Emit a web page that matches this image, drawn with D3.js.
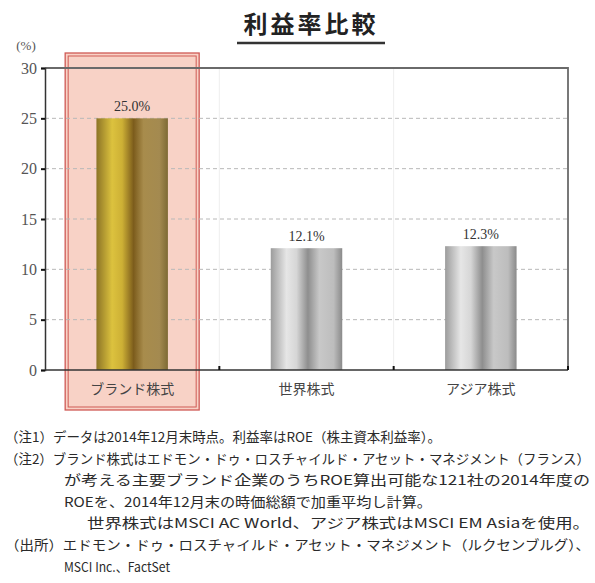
<!DOCTYPE html>
<html>
<head>
<meta charset="utf-8">
<script src="https://cdn.jsdelivr.net/npm/d3@7"></script>
<style>
  body { margin: 0; background: #fff; }
  text { font-family: "Noto Sans CJK JP", sans-serif; fill: #333; }
  .num { font-family: "Liberation Serif", "DejaVu Serif", serif; }
</style>
</head>
<body>
<div id="chart"></div>
<script>
// data
const categories = ["ブランド株式", "世界株式", "アジア株式"];
const values = [25.0, 12.1, 12.3];
const valueLabels = ["25.0%", "12.1%", "12.3%"];
const yTicks = [0, 5, 10, 15, 20, 25, 30];
const notes = [
  "（注1）データは2014年12月末時点。利益率はROE（株主資本利益率）。",
  "（注2）ブランド株式はエドモン・ドゥ・ロスチャイルド・アセット・マネジメント（フランス）",
  "が考える主要ブランド企業のうちROE算出可能な121社の2014年度の",
  "ROEを、2014年12月末の時価総額で加重平均し計算。",
  "世界株式はMSCI AC World、アジア株式はMSCI EM Asiaを使用。",
  "（出所）エドモン・ドゥ・ロスチャイルド・アセット・マネジメント（ルクセンブルグ）、",
  "MSCI Inc.、FactSet"
];
// note layout: x start, width
const noteX = [5, 5, 64, 64, 87, 5, 64];
const noteW = [436, 585, 526, 368, 503, 585, 106];

const width = 595, height = 583;
const plotLeft = 45, plotRight = 568, plotTop = 68, plotBottom = 370;

var svg = d3.select("#chart").append("svg")
  .attr("width", width)
  .attr("height", height);

var defs = svg.append("defs");

// gold gradient
var gold = defs.append("linearGradient").attr("id", "gold");
[[0, "#8c7426"], [0.22, "#dcc23e"], [0.36, "#cdb035"], [0.52, "#7c5c1c"], [0.66, "#a88c4c"], [0.88, "#a48a50"], [1, "#7e6a34"]]
  .forEach(s => gold.append("stop").attr("offset", s[0]).attr("stop-color", s[1]));

// silver gradient
var silver = defs.append("linearGradient").attr("id", "silver");
[[0, "#9c9c9c"], [0.22, "#e6e6e6"], [0.36, "#d6d6d6"], [0.52, "#8e8e8e"], [0.68, "#c8c8c8"], [0.88, "#bdbdbd"], [1, "#8a8a8a"]]
  .forEach(s => silver.append("stop").attr("offset", s[0]).attr("stop-color", s[1]));

var x = d3.scaleBand()
  .domain(categories)
  .range([plotLeft, plotRight])
  .paddingInner(0.59)
  .paddingOuter(0.295);

var y = d3.scaleLinear()
  .domain([0, 30])
  .range([plotBottom, plotTop]);

// highlight box behind first category
var cx0 = x(categories[0]) + x.bandwidth() / 2;
svg.append("rect")
  .attr("x", cx0 - 67).attr("y", 53)
  .attr("width", 134).attr("height", 357)
  .attr("fill", "#f8d2c6")
  .attr("stroke", "#cf5a55")
  .attr("stroke-width", 1.3);
svg.append("rect")
  .attr("x", cx0 - 64).attr("y", 56)
  .attr("width", 128).attr("height", 351)
  .attr("fill", "none")
  .attr("stroke", "#cf5a55")
  .attr("stroke-width", 1);

// title
svg.append("text")
  .attr("x", 311).attr("y", 33)
  .attr("text-anchor", "middle")
  .attr("font-size", 24)
  .attr("font-weight", "bold")
  .attr("letter-spacing", 3)
  .style("fill", "#222")
  .text("利益率比較");
svg.append("line")
  .attr("x1", 237).attr("x2", 385)
  .attr("y1", 43).attr("y2", 43)
  .attr("stroke", "#333")
  .attr("stroke-width", 2.5);

// gridlines
svg.selectAll(".grid")
  .data(yTicks.filter(d => d > 0 && d < 30))
  .enter().append("line")
  .attr("x1", plotLeft).attr("x2", plotRight)
  .attr("y1", d => y(d)).attr("y2", d => y(d))
  .attr("stroke", "#b8b8b8")
  .attr("stroke-width", 1)
  .attr("stroke-dasharray", "4,3");

// faint vertical separators
svg.selectAll(".sep")
  .data(categories.slice(1))
  .enter().append("line")
  .attr("x1", d => x(d) - x.step() * x.paddingInner() / 2)
  .attr("x2", d => x(d) - x.step() * x.paddingInner() / 2)
  .attr("y1", plotTop).attr("y2", plotBottom)
  .attr("stroke", "#eeeeee");

// frame top + right
svg.append("path")
  .attr("d", `M${plotLeft},${plotTop}H${plotRight}V${plotBottom}`)
  .attr("fill", "none")
  .attr("stroke", "#6a6a6a")
  .attr("stroke-width", 1.8);

// bars
svg.selectAll(".bar")
  .data(values)
  .enter().append("rect")
  .attr("x", (d, i) => x(categories[i]))
  .attr("y", d => y(d))
  .attr("width", x.bandwidth())
  .attr("height", d => y(0) - y(d))
  .attr("fill", (d, i) => i === 0 ? "url(#gold)" : "url(#silver)");

// value labels
svg.selectAll(".val")
  .data(values)
  .enter().append("text")
  .attr("class", "num")
  .attr("x", (d, i) => x(categories[i]) + x.bandwidth() / 2)
  .attr("y", d => y(d) - 7)
  .attr("text-anchor", "middle")
  .attr("font-size", 14)
  .text((d, i) => valueLabels[i]);

// y axis
var yAxis = svg.append("g")
  .attr("transform", `translate(${plotLeft},0)`)
  .call(d3.axisLeft(y).tickValues(yTicks).tickSize(4).tickPadding(4));
yAxis.select(".domain").attr("stroke", "#333").attr("stroke-width", 1.5);
yAxis.selectAll(".tick line").attr("stroke", "#111").attr("stroke-width", 2);
yAxis.selectAll(".tick text")
  .style("font-family", "'Liberation Serif', 'DejaVu Serif', serif")
  .style("font-size", "16px")
  .style("fill", "#555");

svg.append("text")
  .attr("x", 26).attr("y", 50)
  .attr("text-anchor", "middle")
  .style("font-family", "'Liberation Serif', serif")
  .style("font-size", "13px")
  .style("fill", "#555")
  .text("(%)");

// x axis
svg.append("line")
  .attr("x1", plotLeft).attr("x2", plotRight)
  .attr("y1", plotBottom).attr("y2", plotBottom)
  .attr("stroke", "#333").attr("stroke-width", 1.5);
svg.selectAll(".xtick")
  .data(categories)
  .enter().append("line")
  .attr("x1", d => x(d) + x.bandwidth() + x.step() * x.paddingInner() / 2)
  .attr("x2", d => x(d) + x.bandwidth() + x.step() * x.paddingInner() / 2)
  .attr("y1", plotBottom).attr("y2", plotBottom - 4)
  .attr("stroke", "#111").attr("stroke-width", 2);

svg.selectAll(".cat")
  .data(categories)
  .enter().append("text")
  .attr("x", d => x(d) + x.bandwidth() / 2)
  .attr("y", 394)
  .attr("text-anchor", "middle")
  .attr("font-size", 14)
  .style("fill", "#444")
  .text(d => d);

// notes
svg.selectAll(".note")
  .data(notes)
  .enter().append("text")
  .attr("x", (d, i) => noteX[i])
  .attr("y", (d, i) => 442 + i * 21.6)
  .attr("font-size", 13.5)
  .attr("textLength", (d, i) => noteW[i])
  .attr("lengthAdjust", "spacingAndGlyphs")
  .style("fill", "#2a2a2a")
  .text(d => d);
</script>
</body>
</html>
